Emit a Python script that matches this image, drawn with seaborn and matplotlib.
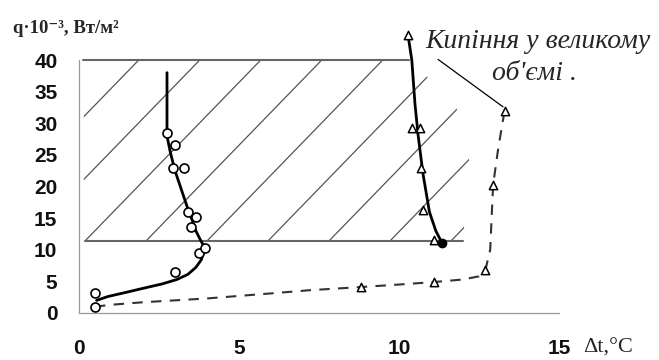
import numpy as np
import pandas as pd
import matplotlib
matplotlib.use("Agg")
import matplotlib.pyplot as plt
from matplotlib.patches import Polygon
import seaborn as sns

# --- curve 1 (solid line, circles) ---
c1_line_x = [0.55, 0.9, 1.5, 2.0, 2.6, 3.06, 3.4, 3.65, 3.82, 3.9, 3.9, 3.8, 3.65, 3.55, 3.4, 3.2, 3.0, 2.85, 2.75, 2.75]
c1_line_y = [2.0, 2.6, 3.3, 3.9, 4.6, 5.3, 6.1, 7.2, 8.4, 9.6, 10.6, 11.5, 13.0, 14.5, 16.5, 19.5, 22.5, 25.5, 28.0, 38.0]
c1_pts_x = [0.5, 0.5, 3.0, 3.75, 3.94, 3.5, 3.66, 3.4, 2.94, 3.28, 3.0, 2.75]
c1_pts_y = [0.9, 3.2, 6.5, 9.5, 10.3, 13.6, 15.2, 16.0, 22.9, 22.9, 26.5, 28.4]

# --- curve 2 (solid line, triangles) ---
c2_line_x = [10.28, 10.4, 10.5, 10.6, 10.75, 10.95, 11.15, 11.34]
c2_line_y = [44.0, 40.0, 33.0, 28.0, 22.0, 16.0, 13.0, 11.1]
c2_pts_x = [10.28, 10.4, 10.66, 10.7, 10.75, 11.1]
c2_pts_y = [44.0, 29.2, 29.2, 22.9, 16.3, 11.5]
c2_end = (11.34, 11.1)

# --- curve 3 (dashed line, triangles) : boiling in large volume ---
c3_line_x = [0.5, 1.0, 2.0, 3.0, 4.0, 5.0, 6.0, 7.2, 8.8, 10.0, 11.1, 12.0, 12.5, 12.7, 12.85, 12.94, 13.1, 13.3]
c3_line_y = [1.0, 1.3, 1.7, 2.0, 2.3, 2.7, 3.1, 3.6, 4.1, 4.5, 4.9, 5.3, 5.8, 6.8, 10.0, 20.2, 26.0, 32.0]
c3_pts_x = [8.8, 11.1, 12.7, 12.94, 13.3]
c3_pts_y = [4.1, 4.9, 6.8, 20.2, 32.0]

# hatched zone
zone_x = [0.15, 12.0, 12.2, 11.85, 10.4, 0.15]
zone_y = [11.4, 11.4, 24.0, 32.0, 40.0, 40.0]
zone_top = ([0.13, 10.3], [40.0, 40.0])
zone_bottom = ([0.2, 12.0], [11.4, 11.4])

x_ticks = [0, 5, 10, 15]
y_ticks = [0, 5, 10, 15, 20, 25, 30, 35, 40]
label_line1 = "Кипіння у великому"
label_line2 = "об'ємі ."
leader = ([11.22, 13.25], [40.1, 32.6])

sns.set_theme(style="white")
plt.rcParams['font.family'] = ['Liberation Sans', 'DejaVu Sans']
serif = ['Liberation Serif', 'DejaVu Serif']

fig = plt.figure(figsize=(6.59, 3.6), dpi=100)
ax = fig.add_axes([79 / 659, 47 / 360, 576 / 659, 284.6 / 360])
ax.set_xlim(0, 18)
ax.set_ylim(0, 45)

# hatch: thin diagonal lines clipped to the zone
clip = Polygon(np.column_stack([zone_x, zone_y]), closed=True, facecolor='none', edgecolor='none')
ax.add_patch(clip)
slope = 5.21
for k in range(-4, 7):
    x0 = 0.19 + 1.906 * k
    hx = [x0, x0 + 40 / slope]
    hy = [11.4, 51.4]
    ln, = ax.plot(hx, hy, color='#555555', lw=0.9)
    ln.set_clip_path(clip)

ax.plot(*zone_top, color='#666666', lw=1.5)
ax.plot(*zone_bottom, color='#666666', lw=1.5)

# curves
sns.lineplot(x=c3_line_x, y=c3_line_y, sort=False, estimator=None, ax=ax,
             color='#333333', lw=1.5, dashes=False, linestyle=(0, (5, 4)))
sns.lineplot(x=c1_line_x, y=c1_line_y, sort=False, estimator=None, ax=ax, color='black', lw=2)
sns.lineplot(x=c2_line_x, y=c2_line_y, sort=False, estimator=None, ax=ax, color='black', lw=2)

sns.scatterplot(x=c1_pts_x, y=c1_pts_y, marker='o', s=42, facecolor='white',
                edgecolor='black', linewidth=1.2, ax=ax, zorder=4)
sns.scatterplot(x=c2_pts_x, y=c2_pts_y, marker='^', s=36, facecolor='white',
                edgecolor='black', linewidth=1.1, ax=ax, zorder=4)
sns.scatterplot(x=c3_pts_x, y=c3_pts_y, marker='^', s=36, facecolor='white',
                edgecolor='black', linewidth=1.1, ax=ax, zorder=4)
ax.plot(*c2_end, marker='o', ms=6, color='black', zorder=5)

# annotation
ax.plot(*leader, color='black', lw=0.9, clip_on=False)
ax.text(14.33, 41.9, label_line1, ha='center', va='baseline', fontsize=20, style='italic',
        family=serif, clip_on=False)
ax.text(14.22, 36.8, label_line2, ha='center', va='baseline', fontsize=20, style='italic',
        family=serif, clip_on=False)

# axes
ax.set_xticks(x_ticks)
ax.set_yticks(y_ticks)
ax.set_xlabel('')
ax.set_ylabel('')
for s in ['top', 'right']:
    ax.spines[s].set_visible(False)
ax.spines['left'].set_bounds(0, 40)
ax.spines['bottom'].set_bounds(0, 15)
for s in ['left', 'bottom']:
    ax.spines[s].set_color('#999999')
    ax.spines[s].set_linewidth(0.9)
ax.tick_params(direction='inout', length=7, width=0.8, color='#999999',
               labelsize=15, labelcolor='#111111')
ax.tick_params(axis='x', pad=15)
ax.tick_params(axis='y', pad=12)
for lab in ax.get_xticklabels() + ax.get_yticklabels():
    lab.set_fontweight('bold')

fig.text(13 / 659, 1 - 33 / 360, "q·10⁻³, Вт/м²", fontsize=13.5, fontweight='bold',
         family=serif, va='baseline', ha='left')
fig.text(583 / 659, 7 / 360, "Δt,°C", fontsize=16,
         family=serif, va='baseline', ha='left')

fig.savefig('out.png', dpi=100)
